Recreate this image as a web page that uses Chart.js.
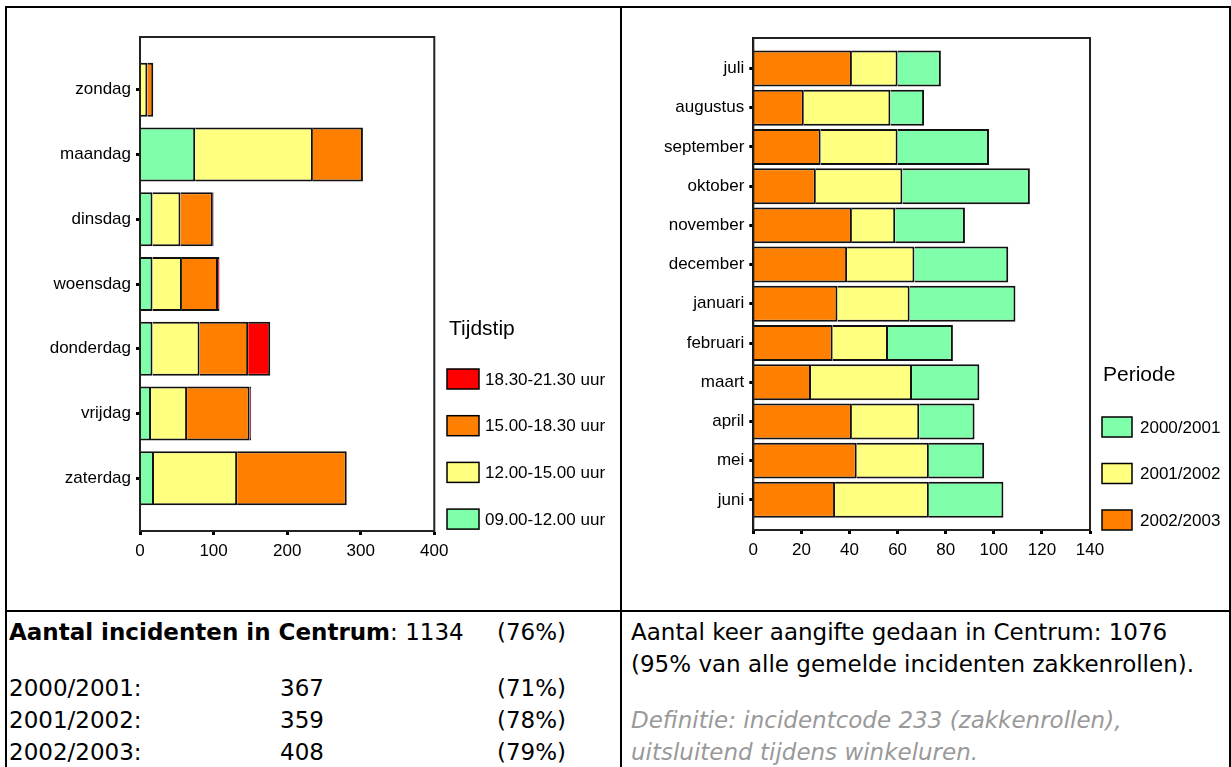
<!DOCTYPE html>
<html lang="nl">
<head>
<meta charset="utf-8">
<title>Zakkenrollen in Centrum</title>
<script src="https://cdn.jsdelivr.net/npm/chart.js@4/dist/chart.umd.min.js"></script>
<style>
  html, body { margin: 0; padding: 0; background: #fff; }
  #page { position: relative; width: 1231px; height: 767px; overflow: hidden; background: #fff; }
  .cv { position: absolute; }
  .ln { position: absolute; background: #000; }
  .tx { position: absolute; font-family: "DejaVu Sans", Verdana, sans-serif; font-size: 23px; line-height: 32px; color: #000; white-space: nowrap; }
  .def { color: #999; font-style: italic; }
</style>
</head>
<body>
<div id="page">
  <canvas id="dagen" class="cv" style="left:0;top:0;width:620px;height:610px"></canvas>
  <canvas id="maanden" class="cv" style="left:622px;top:0;width:609px;height:610px"></canvas>

  <!-- table rules -->
  <div class="ln" style="left:5px;top:6px;width:1226px;height:2px"></div>
  <div class="ln" style="left:5px;top:6px;width:2px;height:761px"></div>
  <div class="ln" style="left:620px;top:6px;width:2px;height:761px"></div>
  <div class="ln" style="left:1229px;top:6px;width:2px;height:761px"></div>
  <div class="ln" style="left:5px;top:610px;width:1226px;height:2px"></div>

  <!-- left cell text -->
  <div class="tx" style="left:9px;top:616px"><b>Aantal incidenten in Centrum</b>: 1134</div>
  <div class="tx" style="left:497px;top:616px">(76%)</div>
  <div class="tx" style="left:9px;top:672px">2000/2001:</div>
  <div class="tx" style="left:280px;top:672px">367</div>
  <div class="tx" style="left:497px;top:672px">(71%)</div>
  <div class="tx" style="left:9px;top:704px">2001/2002:</div>
  <div class="tx" style="left:280px;top:704px">359</div>
  <div class="tx" style="left:497px;top:704px">(78%)</div>
  <div class="tx" style="left:9px;top:736px">2002/2003:</div>
  <div class="tx" style="left:280px;top:736px">408</div>
  <div class="tx" style="left:497px;top:736px">(79%)</div>

  <!-- right cell text -->
  <div class="tx" style="left:631px;top:616px">Aantal keer aangifte gedaan in Centrum: 1076</div>
  <div class="tx" style="left:631px;top:648px">(95% van alle gemelde incidenten zakkenrollen).</div>
  <div class="tx def" style="left:631px;top:704px">Definitie: incidentcode 233 (zakkenrollen),</div>
  <div class="tx def" style="left:631px;top:736px">uitsluitend tijdens winkeluren.</div>
</div>

<script>
// ---- incidents per weekday, split by time of day ----
const days = ['zondag', 'maandag', 'dinsdag', 'woensdag', 'donderdag', 'vrijdag', 'zaterdag'];
const slot0912 = [0, 75, 17, 17, 17, 15, 19];
const slot1215 = [10, 160, 38, 40, 64, 49, 113];
const slot1518 = [8, 68, 44, 49, 66, 85, 149];
const slot1821 = [0, 0, 1, 2, 30, 2, 0];
const dayTicks = [0, 100, 200, 300, 400];

// ---- incidents per month, split by period ----
const months = ['juli', 'augustus', 'september', 'oktober', 'november', 'december',
                'januari', 'februari', 'maart', 'april', 'mei', 'juni'];
const p0203 = [41, 21, 28, 26, 41, 39, 35, 33, 24, 41, 43, 34];
const p0102 = [19, 36, 32, 36, 18, 28, 30, 23, 42, 28, 30, 39];
const p0001 = [18, 14, 38, 53, 29, 39, 44, 27, 28, 23, 23, 31];
const monthTicks = [0, 20, 40, 60, 80, 100, 120, 140];

const GREEN = '#80FFAA', YELLOW = '#FFFF80', ORANGE = '#FF8000', RED = '#FF0000';
const FONT = '"Liberation Sans", Arial, sans-serif';

// frame around the plot area
const frame = {
  id: 'frame',
  afterDatasetsDraw(chart) {
    const a = chart.chartArea, c = chart.ctx;
    c.save();
    c.strokeStyle = '#222';
    c.lineWidth = 2;
    c.strokeRect(a.left, a.top, a.right - a.left, a.bottom - a.top);
    c.restore();
  }
};

// legend column beside the plot
const sideLegend = {
  id: 'sideLegend',
  afterDraw(chart, args, o) {
    const c = chart.ctx;
    c.save();
    c.fillStyle = '#000';
    c.textBaseline = 'middle';
    c.textAlign = 'left';
    c.font = '21px ' + FONT;
    c.fillText(o.title, o.titleX, o.titleY);
    c.font = '17px ' + FONT;
    o.order.forEach((di, k) => {
      const ds = chart.data.datasets[di];
      const cy = o.firstY + k * o.step;
      c.fillStyle = ds.backgroundColor;
      c.fillRect(o.boxX, cy - 10, o.boxW, 20);
      c.lineWidth = 1.5;
      c.strokeStyle = '#000';
      c.strokeRect(o.boxX, cy - 10, o.boxW, 20);
      c.fillStyle = '#000';
      c.fillText(ds.label, o.textX, cy + 1);
    });
    c.restore();
  }
};

function catAxis(labels, lo, hi, width) {
  return {
    type: 'linear', reverse: true, min: lo, max: hi, offset: false,
    afterBuildTicks: s => { s.ticks = labels.map((_, i) => ({ value: i })); },
    afterFit: s => { s.width = width; },
    ticks: { callback: v => labels[v], autoSkip: false, padding: 5, color: '#000',
             font: { family: FONT, size: 17 } },
    grid: { offset: false, drawOnChartArea: false, drawTicks: true, tickLength: 4, tickWidth: 3, tickColor: '#000' },
    border: { display: true, color: '#000', width: 2 }
  };
}

function valAxis(ticks) {
  return {
    type: 'linear', min: ticks[0], max: ticks[ticks.length - 1], offset: false,
    afterBuildTicks: s => { s.ticks = ticks.map(v => ({ value: v })); },
    afterFit: s => { s.height = 40; },
    ticks: { padding: 6, color: '#000', font: { family: FONT, size: 17 } },
    grid: { offset: false, drawOnChartArea: false, drawTicks: true, tickLength: 4, tickWidth: 3, tickColor: '#000' },
    border: { display: true, color: '#000', width: 2 }
  };
}

function bars(label, data, color) {
  return { label, data, backgroundColor: color, borderColor: '#111', borderWidth: 2 };
}

const common = {
  indexAxis: 'y',
  responsive: false,
  animation: false,
  devicePixelRatio: 1,
  plugins: { legend: { display: false }, tooltip: { enabled: false } },
  datasets: { bar: { categoryPercentage: 1 } }
};

new Chart(document.getElementById('dagen'), {
  type: 'bar',
  data: {
    labels: days.map((_, i) => i),
    datasets: [
      bars('09.00-12.00 uur', slot0912, GREEN),
      bars('12.00-15.00 uur', slot1215, YELLOW),
      bars('15.00-18.30 uur', slot1518, ORANGE),
      bars('18.30-21.30 uur', slot1821, RED)
    ].map(d => Object.assign(d, { barPercentage: 0.834 }))
  },
  options: Object.assign({}, common, {
    layout: { padding: { left: 30, top: 37, right: 185.7, bottom: 39 } },
    scales: {
      x: Object.assign(valAxis(dayTicks), { stacked: true }),
      y: Object.assign(catAxis(days, -0.815, 6.815, 110), { stacked: true })
    },
    plugins: Object.assign({}, common.plugins, {
      sideLegend: { title: 'Tijdstip', titleX: 449, titleY: 329, boxX: 447, boxW: 32,
                    textX: 485, firstY: 379, step: 46.7, order: [3, 2, 1, 0] }
    })
  }),
  plugins: [frame, sideLegend]
});

new Chart(document.getElementById('maanden'), {
  type: 'bar',
  data: {
    labels: months.map((_, i) => i),
    datasets: [
      bars('2002/2003', p0203, ORANGE),
      bars('2001/2002', p0102, YELLOW),
      bars('2000/2001', p0001, GREEN)
    ].map(d => Object.assign(d, { barPercentage: 0.917 }))
  },
  options: Object.assign({}, common, {
    layout: { padding: { left: 21.3, top: 38, right: 141, bottom: 40 } },
    scales: {
      x: Object.assign(valAxis(monthTicks), { stacked: true }),
      y: Object.assign(catAxis(months, -0.78, 11.77, 110), { stacked: true })
    },
    plugins: Object.assign({}, common.plugins, {
      sideLegend: { title: 'Periode', titleX: 481, titleY: 375, boxX: 480, boxW: 30,
                    textX: 518, firstY: 427, step: 46.5, order: [2, 1, 0] }
    })
  }),
  plugins: [frame, sideLegend]
});
</script>
</body>
</html>
